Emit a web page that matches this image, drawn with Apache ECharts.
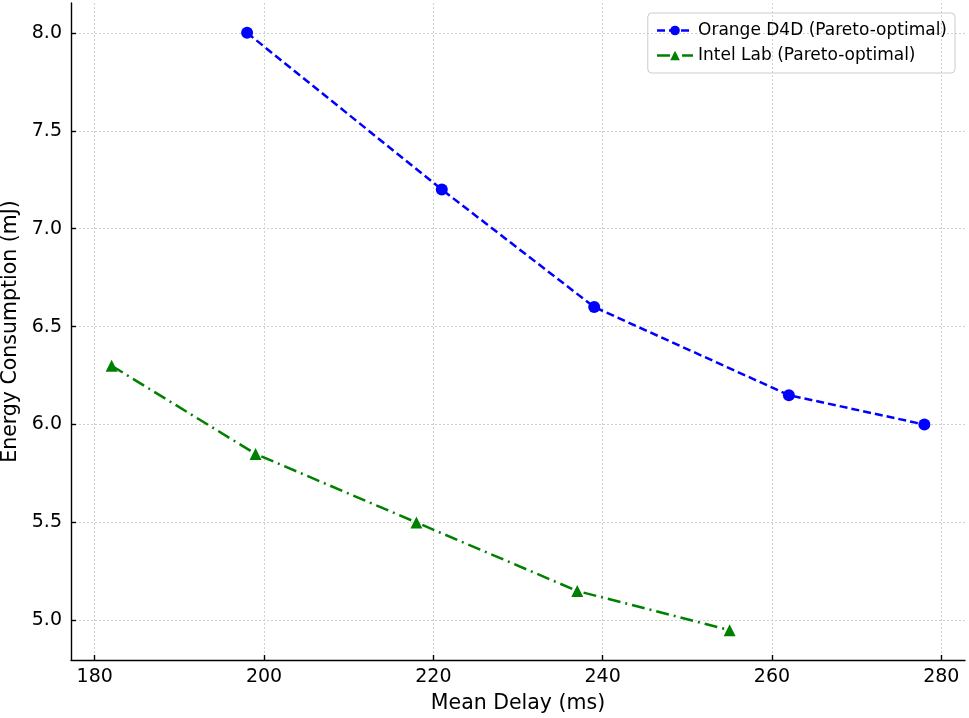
<!DOCTYPE html>
<html>
<head>
<meta charset="utf-8">
<script src="https://cdn.jsdelivr.net/npm/echarts@6/dist/echarts.min.js"></script>
<style>
  html, body { margin: 0; padding: 0; background: #fff; }
  #chart { width: 969px; height: 718px; }
</style>
</head>
<body>
<div id="chart"></div>
<script>
// Pareto fronts: mean delay (ms) vs energy (mJ)
const d4dDelay = [198, 221, 239, 262, 278]
const d4dEnergy = [8.0, 7.2, 6.6, 6.15, 6.0]
const intelDelay = [182, 199, 218, 237, 255]
const intelEnergy = [6.3, 5.85, 5.5, 5.15, 4.95]

const xTicks = [180, 200, 220, 240, 260, 280]
const yTicks = [5.0, 5.5, 6.0, 6.5, 7.0, 7.5, 8.0]

const pair = (xs, ys) => xs.map((x, i) => [x, ys[i]])

const font = 'DejaVu Sans'
const blueDash = [8, 4]
const greenDashDot = [13, 5, 2, 5]
const chart = echarts.init(document.getElementById('chart'))

const option = {
  animation: false,
  backgroundColor: '#fff',
  textStyle: { fontFamily: font },
  grid: { left: 71, right: 4, top: 3, bottom: 58, outerBoundsMode: 'none', containLabel: false },
  legend: {
    orient: 'vertical',
    right: 14,
    top: 13,
    itemWidth: 36,
    itemHeight: 12,
    itemGap: 8,
    padding: [9, 8, 9, 8],
    borderColor: '#cccccc',
    borderWidth: 1,
    borderRadius: 4,
    textStyle: { fontFamily: font, fontSize: 17, color: '#000' },
    data: [
      { name: 'Orange D4D (Pareto-optimal)', lineStyle: { type: blueDash, width: 2.5 } },
      { name: 'Intel Lab (Pareto-optimal)', lineStyle: { type: greenDashDot, width: 2.5 } }
    ]
  },
  xAxis: {
    type: 'value',
    min: 177.2,
    max: 282.8,
    name: 'Mean Delay (ms)',
    nameLocation: 'middle',
    nameGap: 33,
    nameTextStyle: { fontFamily: font, fontSize: 20.5, color: '#000' },
    axisLine: { show: true, onZero: false, lineStyle: { color: '#000', width: 1.4 } },
    axisTick: { show: true, inside: true, length: 5, customValues: xTicks, lineStyle: { color: '#000', width: 1.4 } },
    axisLabel: { customValues: xTicks, margin: 8, fontFamily: font, fontSize: 19, color: '#000', formatter: v => String(v) },
    splitLine: { show: true, lineStyle: { color: '#d0d0d0', type: [2, 2], width: 1 } }
  },
  yAxis: {
    type: 'value',
    min: 4.7975,
    max: 8.1525,
    name: 'Energy Consumption (mJ)',
    nameLocation: 'middle',
    nameGap: 45,
    nameTextStyle: { fontFamily: font, fontSize: 20.5, color: '#000' },
    axisLine: { show: true, onZero: false, lineStyle: { color: '#000', width: 1.4 } },
    axisTick: { show: true, inside: true, length: 5, customValues: yTicks, lineStyle: { color: '#000', width: 1.4 } },
    axisLabel: { customValues: yTicks, margin: 9, fontFamily: font, fontSize: 19, color: '#000', formatter: v => v.toFixed(1) },
    splitLine: { show: true, lineStyle: { color: '#d0d0d0', type: [2, 2], width: 1 } }
  },
  series: [
    {
      name: 'Orange D4D (Pareto-optimal)',
      type: 'line',
      data: pair(d4dDelay, d4dEnergy),
      symbol: 'circle',
      symbolSize: 12,
      clip: false,
      itemStyle: { color: '#0000ff' },
      lineStyle: { color: '#0000ff', width: 2.5, type: blueDash }
    },
    {
      name: 'Intel Lab (Pareto-optimal)',
      type: 'line',
      data: pair(intelDelay, intelEnergy),
      symbol: 'triangle',
      symbolSize: 12,
      clip: false,
      itemStyle: { color: '#008000' },
      lineStyle: { color: '#008000', width: 2.5, type: greenDashDot }
    }
  ]
}

chart.setOption(option)
</script>
</body>
</html>
